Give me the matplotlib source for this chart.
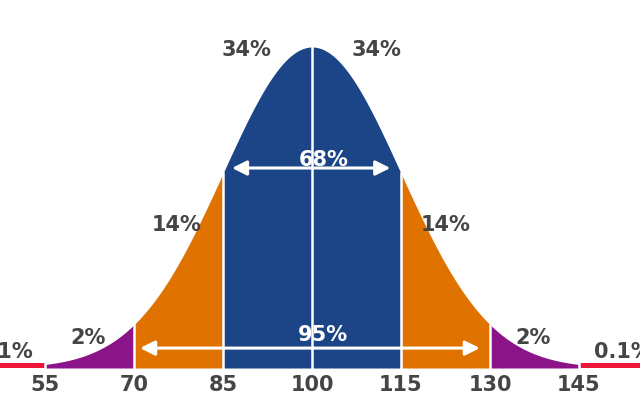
import numpy as np
import matplotlib.pyplot as plt

# IQ distribution, mean 100, sd 15
mean = 100
sd = 15
ticks = [55, 70, 85, 100, 115, 130, 145]
tick_labels = ['55', '70', '85', '100', '115', '130', '145']

# band edges and colours
bands = [(55, 70), (70, 85), (85, 115), (115, 130), (130, 145)]
band_colors = ['#8c1489', '#e07300', '#1b4587', '#e07300', '#8c1489']
tail_color = '#ee143a'

# percentage labels: text, x, y (y relative to peak height)
pct_text = ['34%', '34%', '14%', '14%', '2%', '2%']
pct_x = [89.0, 110.8, 77.1, 122.6, 62.2, 137.3]
pct_y = [0.99, 0.99, 0.445, 0.445, 0.093, 0.093]

lab_color = '#454545'
fs = 15

x = np.linspace(40, 160, 2000)
curve = np.exp(-0.5 * ((x - mean) / sd) ** 2)

fig = plt.figure(figsize=(6.4, 4), dpi=100)
ax = fig.add_axes([0, 0, 1, 1])
ax.set_xlim(47.39, 155.3)
ax.set_ylim(-0.0997, 1.1464)

for (a, b), c in zip(bands, band_colors):
    m = (x >= a) & (x <= b)
    ax.fill_between(x[m], 0, curve[m], color=c, lw=0)

# flat red tails
m = x <= 55
ax.fill_between(x[m], 0, 0.016, color=tail_color, lw=0)
m = x >= 145
ax.fill_between(x[m], 0, 0.016, color=tail_color, lw=0)

# white separators
for t in ticks:
    h = np.exp(-0.5 * ((t - mean) / sd) ** 2)
    ax.plot([t, t], [0, max(h, 0.02)], color='white', lw=1.8)

for s, px, py in zip(pct_text, pct_x, pct_y):
    ax.text(px, py, s, ha='center', va='center', fontsize=fs,
            fontweight='bold', color=lab_color)
ax.text(52.96, 0.05, '0.1%', ha='right', va='center', fontsize=fs,
        fontweight='bold', color=lab_color)
ax.text(147.6, 0.05, '0.1%', ha='left', va='center', fontsize=fs,
        fontweight='bold', color=lab_color)

# arrows
ax.annotate('', xy=(86.5, 0.623), xytext=(113.2, 0.623),
            arrowprops=dict(arrowstyle='<|-|>', color='white', lw=2.2,
                            mutation_scale=22, shrinkA=0, shrinkB=0))
ax.text(101.9, 0.648, '68%', ha='center', va='center', fontsize=fs,
        fontweight='bold', color='white')
ax.annotate('', xy=(71.0, 0.062), xytext=(128.3, 0.062),
            arrowprops=dict(arrowstyle='<|-|>', color='white', lw=2.2,
                            mutation_scale=22, shrinkA=0, shrinkB=0))
ax.text(101.9, 0.103, '95%', ha='center', va='center', fontsize=fs,
        fontweight='bold', color='white')

ax.set_xticks(ticks)
ax.set_xticklabels(tick_labels, fontsize=fs, fontweight='bold', color=lab_color)
ax.tick_params(axis='x', direction='in', length=0, pad=-18)
ax.set_yticks([])
for sp in ax.spines.values():
    sp.set_visible(False)

fig.savefig('out.png', dpi=100, facecolor='white')
